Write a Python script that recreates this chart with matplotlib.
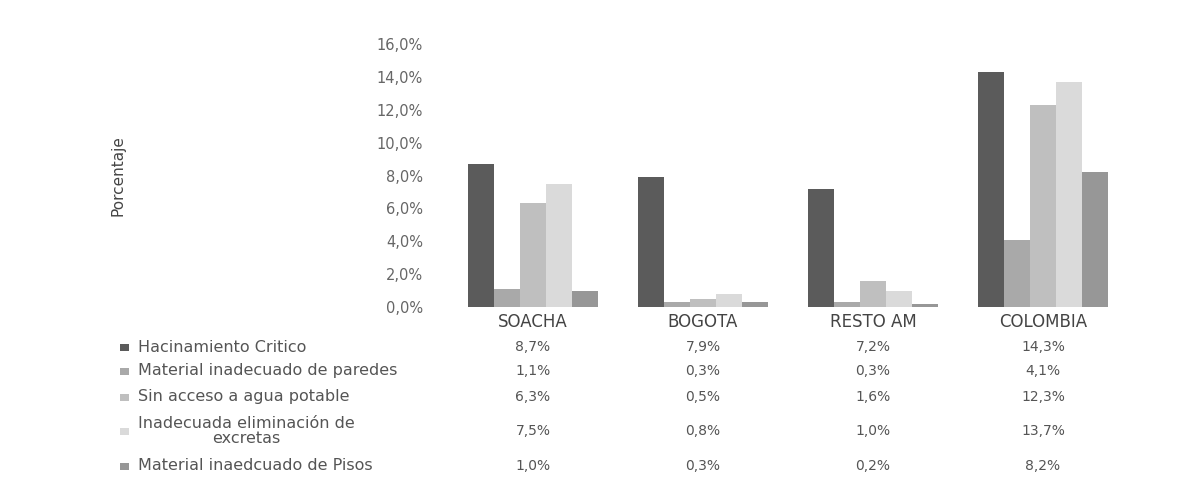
import numpy as np
import matplotlib
matplotlib.use("Agg")
import matplotlib.pyplot as plt
from matplotlib.ticker import FuncFormatter
from matplotlib.patches import Rectangle

categorias = ["SOACHA", "BOGOTA", "RESTO AM", "COLOMBIA"]
series = ["Hacinamiento Critico",
          "Material inadecuado de paredes",
          "Sin acceso a agua potable",
          "Inadecuada eliminación de\nexcretas",
          "Material inaedcuado de Pisos"]
hacinamiento = [8.7, 7.9, 7.2, 14.3]
paredes = [1.1, 0.3, 0.3, 4.1]
agua = [6.3, 0.5, 1.6, 12.3]
excretas = [7.5, 0.8, 1.0, 13.7]
pisos = [1.0, 0.3, 0.2, 8.2]
valores = [hacinamiento, paredes, agua, excretas, pisos]
colores = ["#5b5b5b", "#a9a9a9", "#bfbfbf", "#dadada", "#979797"]
txt = "#555555"

fig = plt.figure(figsize=(11.8, 4.79), dpi=100)
ax = fig.add_axes([448/1180, 1-307/479, 680/1180, 263/479])

x = np.arange(len(categorias))
n = len(series)
ancho = 0.765 / n
for i, (vals, c) in enumerate(zip(valores, colores)):
    ax.bar(x - 0.765/2 + ancho*(i+0.5), vals, ancho, color=c, linewidth=0)

ax.set_xlim(-0.5, 3.5)
ax.set_ylim(0, 16)
ax.set_yticks(np.arange(0, 17, 2))
ax.yaxis.set_major_formatter(FuncFormatter(lambda v, p: f"{v:.1f}%".replace(".", ",")))
ax.tick_params(axis="y", length=0, labelsize=10.5, labelcolor="#666666", pad=18)
ax.set_xticks([])
for s in ax.spines.values():
    s.set_visible(False)

fig.text(118/1180, 1-176/479, "Porcentaje", rotation=90, ha="center", va="center",
         fontsize=11, color="#444444")

# tabla de datos
ycab = 322
for j, cat in enumerate(categorias):
    xc = (448 + 170*(j+0.5)) / 1180
    fig.text(xc, 1-ycab/479, cat, ha="center", va="center", fontsize=12, color="#444444")

filas_y = [347, 371, 397, 431, 466]
for i, (nombre, vals, c) in enumerate(zip(series, valores, colores)):
    yf = 1 - filas_y[i]/479
    fig.patches.append(Rectangle((120/1180, yf - 3.5/479), 9/1180, 7/479,
                                 transform=fig.transFigure, color=c, linewidth=0))
    fig.text(138/1180, yf, nombre, ha="left", va="center", fontsize=11.5,
             color=txt, multialignment="center", linespacing=1.0)
    for j, v in enumerate(vals):
        xc = (448 + 170*(j+0.5)) / 1180
        fig.text(xc, yf, f"{v:.1f}%".replace(".", ","), ha="center", va="center",
                 fontsize=10, color=txt)

fig.savefig("out.png", dpi=100, facecolor="white")
